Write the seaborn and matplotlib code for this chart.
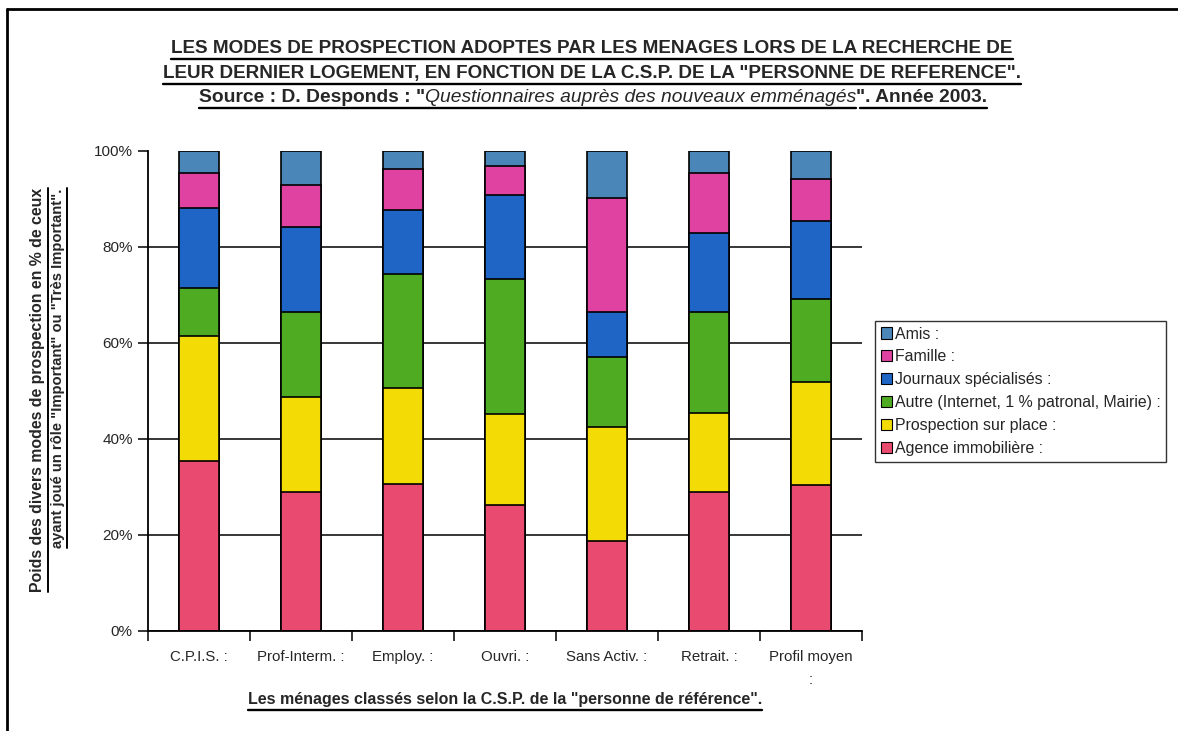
import matplotlib
matplotlib.use("Agg")
import matplotlib.pyplot as plt
import numpy as np
import pandas as pd
import seaborn as sns
from matplotlib.lines import Line2D
from matplotlib.patches import Patch

# categories (x) and series values (% of households), bottom -> top of stack
csp = ["C.P.I.S. :", "Prof-Interm. :", "Employ. :", "Ouvri. :",
       "Sans Activ. :", "Retrait. :", "Profil moyen\n:"]
agence = [35.4, 29.0, 30.6, 26.2, 18.7, 28.9, 30.4]
prospection = [26.1, 19.8, 20.0, 19.1, 23.9, 16.5, 21.4]
autre = [10.0, 17.7, 23.8, 28.0, 14.4, 21.1, 17.3]
journaux = [16.6, 17.7, 13.3, 17.5, 9.5, 16.5, 16.3]
famille = [7.3, 8.8, 8.6, 6.0, 23.7, 12.4, 8.7]
amis = [4.6, 7.0, 3.7, 3.2, 9.8, 4.6, 5.9]

series_names = ["Agence immobilière :", "Prospection sur place :",
                "Autre (Internet, 1 % patronal, Mairie) :",
                "Journaux spécialisés :", "Famille :", "Amis :"]
series_vals = [agence, prospection, autre, journaux, famille, amis]
colors = ["#e84a70", "#f3db05", "#4fab22", "#1f65c6", "#df42a0", "#4a86b8"]

y_ticks = [0, 20, 40, 60, 80, 100]
y_ticklabels = ["0%", "20%", "40%", "60%", "80%", "100%"]

sns.set_style("white")
plt.rcParams["font.family"] = ["Liberation Sans", "DejaVu Sans"]

df = pd.DataFrame({"csp": csp})
for name, vals in zip(series_names, series_vals):
    df[name] = vals

W, H = 1178, 731
fig = plt.figure(figsize=(W / 100, H / 100), dpi=100)
ax = fig.add_axes([148 / W, 1 - 631 / H, 714 / W, 480 / H])

# stacked bars: draw cumulative totals from the top series down
cum = df[series_names].cumsum(axis=1)
for name, col in reversed(list(zip(series_names, colors))):
    sns.barplot(x=df["csp"], y=cum[name], color=col, width=0.4,
                edgecolor="black", linewidth=1.2, saturation=1, ax=ax, zorder=2)

ax.set_xlim(-0.5, len(csp) - 0.5)
ax.set_ylim(0, 100)
ax.set_yticks(y_ticks)
ax.set_yticklabels(y_ticklabels, fontsize=11)
ax.yaxis.grid(True, color="black", linewidth=1.1)
ax.set_axisbelow(True)
ax.yaxis.get_gridlines()[-1].set_visible(False)
ax.tick_params(axis="y", length=7, width=1.1, color="black", pad=4, left=True)

ax.set_xticks(range(len(csp)))
ax.set_xticklabels(csp, fontsize=10.8, linespacing=1.75, va="top")
ax.tick_params(axis="x", which="major", length=0, pad=14)
ax.set_xticks(np.arange(-0.5, len(csp), 1.0), minor=True)
ax.tick_params(axis="x", which="minor", length=7, width=1.1, color="black",
               bottom=True)
ax.set_xlabel("")
ax.set_ylabel("")
for s in ["top", "right"]:
    ax.spines[s].set_visible(False)
for s in ["left", "bottom"]:
    ax.spines[s].set_color("black")
    ax.spines[s].set_linewidth(1.3)

# legend, top series first
handles = [Patch(facecolor=c, edgecolor="black", linewidth=0.8)
           for c in reversed(colors)]
leg = fig.legend(handles, list(reversed(series_names)), loc="upper left",
                 bbox_to_anchor=(875 / W, 1 - 321 / H), fontsize=11.4,
                 frameon=True, fancybox=False, handlelength=0.7,
                 handleheight=0.7, handletextpad=0.2, labelspacing=0.5,
                 borderpad=0.35, borderaxespad=0)
leg.get_frame().set_edgecolor("black")
leg.get_frame().set_linewidth(1.0)

renderer = fig.canvas.get_renderer()


def line_pieces(pieces, xc, y, size):
    """Draw joined text pieces centered at xc (pixels); (text, style, underline-group)."""
    texts = []
    for txt, style, _ in pieces:
        italic = style == "italic"
        t = fig.text(0, 1 - y / H, txt, fontsize=size,
                     fontweight="normal" if italic else "bold",
                     fontstyle="italic" if italic else "normal",
                     va="baseline", ha="left")
        texts.append(t)
    widths = [t.get_window_extent(renderer).width for t in texts]
    x = xc - sum(widths) / 2
    spans = {}
    for t, w, (_, _, grp) in zip(texts, widths, pieces):
        t.set_x(x / W)
        lo, hi = spans.get(grp, (x, x))
        spans[grp] = (min(lo, x), x + w)
        x += w
    for grp, (lo, hi) in spans.items():
        if grp > 0:
            lo += 4
        fig.add_artist(Line2D([lo / W, hi / W], [1 - (y + 6) / H] * 2,
                              color="black", lw=1.7, transform=fig.transFigure))


line_pieces([("LES MODES DE PROSPECTION ADOPTES PAR LES MENAGES LORS DE LA RECHERCHE DE", "bold", 0)],
            592, 53, 13.6)
line_pieces([("LEUR DERNIER LOGEMENT, EN FONCTION DE LA C.S.P. DE LA \"PERSONNE DE REFERENCE\".", "bold", 0)],
            592, 78, 13.6)
line_pieces([("Source : D. Desponds : \"", "bold", 0),
             ("Questionnaires auprès des nouveaux emménagés", "italic", 0),
             ("\". Année 2003.", "bold", 1)], 593, 102, 13.9)

# x axis title
line_pieces([("Les ménages classés selon la C.S.P. de la \"personne de référence\".", "bold", 0)],
            505, 704, 11.5)

# y axis title, two rotated underlined lines
for txt, xc, yc, fs in [("Poids des divers modes de prospection en % de ceux", 38, 390, 11.4),
                        ("ayant joué un rôle \"Important\" ou \"Très Important\".", 58, 368, 10.6)]:
    t = fig.text(xc / W, 1 - yc / H, txt, rotation=90, fontsize=fs,
                 fontweight="bold", ha="center", va="center")
    bb = t.get_window_extent(renderer)
    fig.add_artist(Line2D([(bb.x1 + 2) / W] * 2, [bb.y0 / H, bb.y1 / H],
                          color="black", lw=1.4, transform=fig.transFigure))

# page frame from the scanned document
fig.add_artist(Line2D([7 / W, 1], [1 - 9 / H] * 2, color="black", lw=2,
                      transform=fig.transFigure))
fig.add_artist(Line2D([7 / W] * 2, [0, 1 - 9 / H], color="black", lw=2,
                      transform=fig.transFigure))

fig.savefig("out.png", dpi=100)
